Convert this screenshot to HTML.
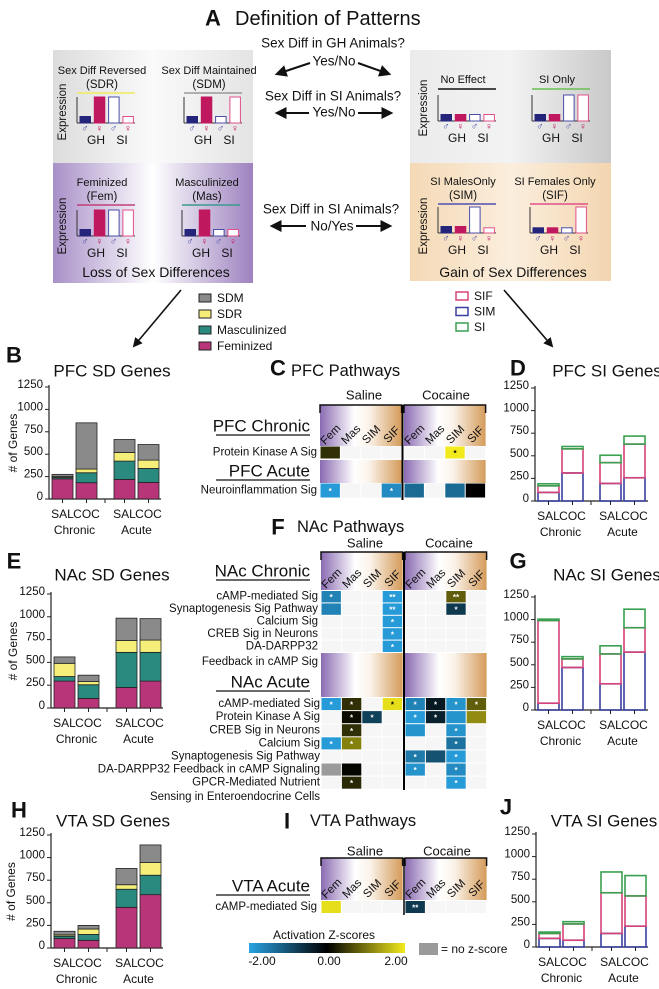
<!DOCTYPE html>
<html><head><meta charset="utf-8">
<style>
html,body{margin:0;padding:0;background:#fff;}
svg{display:block;font-family:"Liberation Sans",Arial,sans-serif;}
</style></head>
<body>
<svg id="fig" width="659" height="989" viewBox="0 0 659 989" xmlns="http://www.w3.org/2000/svg">
<defs>
<linearGradient id="gGrayL" x1="0" x2="1"><stop offset="0" stop-color="#dcdcdc"/><stop offset="0.5" stop-color="#fafafa"/><stop offset="1" stop-color="#e4e4e4"/></linearGradient>
<linearGradient id="gPurp" x1="0" x2="1"><stop offset="0" stop-color="#a890c8"/><stop offset="0.5" stop-color="#ffffff"/><stop offset="1" stop-color="#9d82bf"/></linearGradient>
<linearGradient id="gGrayR" x1="0" x2="1"><stop offset="0" stop-color="#ebebeb"/><stop offset="0.5" stop-color="#f3f3f3"/><stop offset="1" stop-color="#c9c9c9"/></linearGradient>
<linearGradient id="gPeach" x1="0" x2="1"><stop offset="0" stop-color="#f4d9b5"/><stop offset="0.5" stop-color="#fbeedd"/><stop offset="1" stop-color="#f3d6b0"/></linearGradient>
<linearGradient id="gHdr" x1="0" x2="1"><stop offset="0" stop-color="#8a6bb2"/><stop offset="0.42" stop-color="#ffffff"/><stop offset="0.6" stop-color="#fbf3ea"/><stop offset="1" stop-color="#d49b5a"/></linearGradient>
<linearGradient id="gZ" x1="0" x2="1"><stop offset="0" stop-color="#29a3e3"/><stop offset="0.5" stop-color="#000000"/><stop offset="1" stop-color="#f2ea1c"/></linearGradient>
<marker id="ah" viewBox="0 0 10 10" refX="8" refY="5" markerWidth="6" markerHeight="6" orient="auto"><path d="M0,0 L10,5 L0,10 z" fill="#111"/></marker>
</defs>
<g id="panelA"></g>
<g id="charts"></g>
<g id="heat"></g>
</svg>
<script>
// ---------- DATA ----------
const miniSDR=[0.25,1,1,0.25];
const miniSDM=[0.25,1,0.25,1];
const miniFem=[0.25,1,1,1];
const miniMas=[0.25,1,0.25,0.25];
const miniNoEff=[0.25,0.25,0.25,0.25];
const miniSIOnly=[0.25,0.25,1,1];
const miniSIM=[0.25,0.25,1,0.2];
const miniSIF=[0.2,0.2,0.2,1];

const sdCategories=['SAL','COC','SAL','COC'];
const groupLabels=['Chronic','Acute'];
const yTicks=[0,250,500,750,1000,1250];
const pfcFem=[225,182,219,185], pfcMasc=[15,111,204,156], pfcSDR=[10,41,96,93], pfcSDM=[25,516,145,174];
const nacFem=[295,105,225,295], nacMasc=[50,150,385,315], nacSDR=[145,35,130,135], nacSDM=[70,70,245,235];
const vtaFem=[105,85,450,590], vtaMasc=[25,65,200,215], vtaSDR=[15,60,50,140], vtaSDM=[40,40,180,195];
const pfcSIM=[95,310,194,257], pfcSIF=[73,267,230,372], pfcSI=[22,26,82,89];
const nacSIM=[75,470,290,640], nacSIF=[915,95,330,270], nacSI=[15,25,90,205];
const vtaSIM=[95,75,150,230], vtaSIF=[55,180,450,335], vtaSI=[15,25,230,225];

const heatCols=['Fem','Mas','SIM','SIF'];
const pfcChronicRows=['Protein Kinase A Sig'];
const pfcChronicZ=[[0.4,null,null,null,null,null,2,null]];
const pfcChronicStars=[['','','','','','','*','']];
const pfcAcuteRows=['Neuroinflammation Sig'];
const pfcAcuteZ=[[-1.9,null,null,-1.7,-1.3,null,-1.3,0]];
const pfcAcuteStars=[['*','','','*','','','','']];
const nacChronicRows=['cAMP-mediated Sig','Synaptogenesis Sig Pathway','Calcium Sig','CREB Sig in Neurons','DA-DARPP32'];
const nacChronicZ=[[-1.6,null,null,-1.9,null,null,0.8,null],[-1.6,null,null,-1.9,null,null,-0.7,null],[null,null,null,-1.9,null,null,null,null],[null,null,null,-1.9,null,null,null,null],[null,null,null,-1.9,null,null,null,null]];
const nacChronicStars=[['*','','','**','','','**',''],['','','','**','','','*',''],['','','','*','','','',''],['','','','*','','','',''],['','','','*','','','','']];
const nacAcuteRows=['cAMP-mediated Sig','Protein Kinase A Sig','CREB Sig in Neurons','Calcium Sig','Synaptogenesis Sig Pathway','DA-DARPP32 Feedback in cAMP Signaling','GPCR-Mediated Nutrient'];
const nacAcuteZ=[[-1.9,0.4,null,1.9,-1.6,-0.3,-1.8,0.8],[null,0.1,-0.8,null,-1.9,-0.4,-1.8,1.2],[null,0.4,null,null,-1.8,null,-1.8,null],[-1.9,1.1,null,null,null,null,-1.4,null],[null,null,null,null,-1.5,-1.0,-1.9,null],['NA',0.05,null,null,-1.8,null,-1.7,null],[null,0.35,null,null,null,null,-1.9,null]];
const nacAcuteStars=[['*','*','','*','*','*','*','*'],['','*','*','','*','*','',''],['','*','','','','','*',''],['*','*','','','','','*',''],['','','','','*','','*',''],['','','','','*','','*',''],['','*','','','','','*','']];
const vtaRows=['cAMP-mediated Sig'];
const vtaZ=[[1.9,null,null,null,-0.7,null,null,null]];
const vtaStars=[['','','','','**','','','']];
const zTickLabels=['-2.00','0.00','2.00'];

// ---------- HELPERS ----------
const NS='http://www.w3.org/2000/svg';
function mk(parent,tag,attrs,text){const e=document.createElementNS(NS,tag);for(const k in attrs)e.setAttribute(k,attrs[k]);if(text!==undefined)e.textContent=text;parent.appendChild(e);return e;}
function txt(parent,x,y,s,size,anchor,name,extra){const a=Object.assign({x:x,y:y,'font-size':size,'text-anchor':anchor||'middle','dominant-baseline':'central',fill:'#111'},extra||{});const t=mk(parent,'text',a,s);return t;}
const A=document.getElementById('panelA'), C=document.getElementById('charts'), H=document.getElementById('heat');

// ---------- PANEL A ----------
txt(A,213,18,'A',22,'middle','panel-a-letter',{'font-weight':'bold'});
txt(A,235,19,'Definition of Patterns',20,'start','panel-a-title');
function box(x,y,w,h,f,n){const r=mk(A,'rect',{x:x,y:y,width:w,height:h,fill:f});}
box(53,50,200,113,'url(#gGrayL)','sd-box');
box(53,163,200,120,'url(#gPurp)','loss-box');
box(410,50,201,113,'url(#gGrayR)','si-box');
box(410,163,201,118,'url(#gPeach)','gain-box');
txt(A,333,43,'Sex Diff in GH Animals?',13.5,'middle','question-gh');
txt(A,334,61,'Yes/No',13.5,'middle','yes-no-1');
txt(A,333,96,'Sex Diff in SI Animals?',13.5,'middle','question-si-1');
txt(A,334,112,'Yes/No',13.5,'middle','yes-no-2');
txt(A,331,209,'Sex Diff in SI Animals?',13.5,'middle','question-si-2');
txt(A,332,226,'No/Yes',13.5,'middle','no-yes');
function arrow(x1,y1,x2,y2,n,w){const l=mk(A,'line',{x1:x1,y1:y1,x2:x2,y2:y2,stroke:'#111','stroke-width':w||2,'marker-end':'url(#ah)'});}
arrow(310,63,277,74,'arrow-yes-left');arrow(358,63,389,74,'arrow-no-right');
arrow(309,113,277,113,'arrow-yes-left-2');arrow(358,113,391,113,'arrow-no-right-2');
arrow(306,226,272,226,'arrow-no-left');arrow(356,226,390,226,'arrow-yes-right');
arrow(181,290,134,346,'arrow-to-sd',1.6);arrow(504,290,552,346,'arrow-to-si',1.6);

const NAVY='#24247a',MAG='#c0185e',BLU='#4b4fa8',PNK='#e0508a';
function mini(ax,base,top,vals,lineColor,t1,t2,titleY,name,lineY){
  const g=mk(A,'g',{});
  const H0=base-top;
  txt(g,ax+25,titleY,t1,11,'middle',name+'-title');
  if(t2)txt(g,ax+25,titleY+14,t2,11.5,'middle',name+'-subtitle');
  mk(g,'line',{x1:ax,x2:ax+58,y1:lineY,y2:lineY,stroke:lineColor,'stroke-width':1.5});
  mk(g,'line',{x1:ax,x2:ax,y1:top,y2:base,stroke:'#333','stroke-width':1});
  mk(g,'line',{x1:ax,x2:ax+58,y1:base,y2:base,stroke:'#333','stroke-width':1});
  const fills=[NAVY,MAG,'#fff','#fff'],strokes=[NAVY,MAG,BLU,PNK];
  vals.forEach((v,i)=>{const h=v*H0;const r=mk(g,'rect',{x:ax+3+i*14.3,y:base-h,width:10.5,height:h,fill:fills[i],stroke:strokes[i],'stroke-width':1});});
  const sy=['♂','♀','♂','♀'];
  sy.forEach((s,i)=>txt(g,ax+8+i*14.3,base+6,s,10,'middle','sex-symbol',{fill:i%2?MAG:BLU}));
  txt(g,ax+19,base+17,'GH',12,'middle','gh-label');
  txt(g,ax+45,base+17,'SI',12,'middle','si-label');
}
mini(77,123,97,miniSDR,'#f2ea60','Sex Diff Reversed','(SDR)',71,'mini-sdr',93);
mini(184,123,97,miniSDM,'#999','Sex Diff Maintained','(SDM)',71,'mini-sdm',93);
mini(77,236,210,miniFem,'#c0407a','Feminized','(Fem)',183,'mini-fem',205);
mini(182,236,210,miniMas,'#3a9a90','Masculinized','(Mas)',183,'mini-mas',205);
mini(438,121,95,miniNoEff,'#111','No Effect',null,80,'mini-noeffect',89);
mini(532,121,95,miniSIOnly,'#6ac050','SI Only',null,80,'mini-sionly',89);
mini(438,233,207,miniSIM,'#5050b0','SI MalesOnly','(SIM)',182,'mini-sim',204);
mini(530,233,207,miniSIF,'#e0508a','SI Females Only','(SIF)',182,'mini-sif',204);
[[63,112],[63,226],[424,108],[424,226]].forEach(p=>txt(A,p[0],p[1],'Expression',11.5,'middle','expression-label',{transform:'rotate(-90 '+p[0]+' '+p[1]+')'}));
txt(A,156,272,'Loss of Sex Differences',14,'middle','loss-label');
txt(A,513,272,'Gain of Sex Differences',14,'middle','gain-label');
const sdLeg=[['SDM','#8a8a8a'],['SDR','#f5ef7a'],['Masculinized','#2a8a80'],['Feminized','#b8357a']];
sdLeg.forEach((l,i)=>{const y=298+i*16;const r=mk(A,'rect',{x:199,y:y-4,width:12,height:8,fill:l[1],stroke:'#222','stroke-width':1});txt(A,217,y,l[0],12,'start','legend-'+l[0].toLowerCase());});
const siLeg=[['SIF','#d6437a'],['SIM','#3a40a0'],['SI','#3aa050']];
siLeg.forEach((l,i)=>{const y=296+i*15.5;const r=mk(A,'rect',{x:456,y:y-4,width:12,height:8,fill:'#fff',stroke:l[1],'stroke-width':1.5});txt(A,474,y,l[0],12,'start','legend-'+l[0].toLowerCase());});

// ---------- BAR CHARTS ----------
function barChart(o){
  const g=mk(C,'g',{});
  txt(g,o.letterX,o.letterY,o.letter,22,'middle','panel-letter',{'font-weight':'bold'});
  txt(g,o.titleX,o.titleY,o.title,17,'middle','chart-title');
  const yS=v=>o.y0-(v/1250)*(o.y0-o.y1250);
  mk(g,'line',{x1:o.ax,x2:o.ax,y1:o.y1250-2,y2:o.y0,stroke:'#222','stroke-width':1.2});
  mk(g,'line',{x1:o.ax,x2:o.axEnd,y1:o.y0,y2:o.y0,stroke:'#222','stroke-width':1.2});
  yTicks.forEach(t=>{const y=yS(t);mk(g,'line',{x1:o.ax-4,x2:o.ax,y1:y,y2:y,stroke:'#222'});txt(g,o.ax-6,y-2,String(t),11.5,'end','y-tick-label');});
  if(o.ylabel)txt(g,o.ylabelX,(o.y0+o.y1250)/2,'# of Genes',12,'middle','y-axis-title',{transform:'rotate(-90 '+o.ylabelX+' '+(o.y0+o.y1250)/2+')'});
  const bx=[o.ax+3,o.ax+27,o.ax+65,o.ax+89];
  const bw=21;
  sdCategories.forEach((c,i)=>{
    let acc=0;
    o.series.forEach((s,k)=>{const v=s.data[i];const y1=yS(acc),y2=yS(acc+v);acc+=v;
      const r=mk(g,'rect',{x:bx[i],y:y2,width:bw,height:Math.max(0,y1-y2),fill:o.outline?'#fff':s.color,'fill-opacity':o.outline?0:1,stroke:o.outline?s.color:'#222','stroke-width':o.outline?1.6:0.8});
      });
    const cx=bx[i]+bw/2;
    mk(g,'line',{x1:cx,x2:cx,y1:o.y0,y2:o.y0+4,stroke:'#222'});
    txt(g,cx,o.y0+15,c,12,'middle','x-category-label');
  });
  mk(g,'line',{x1:o.ax+56,x2:o.ax+56,y1:o.y0,y2:o.y0+4,stroke:'#222'});
  txt(g,(bx[0]+bx[1]+bw)/2,o.y0+31,groupLabels[0],12,'middle','x-group-label');
  txt(g,(bx[2]+bx[3]+bw)/2,o.y0+31,groupLabels[1],12,'middle','x-group-label');
}
function sdSeries(f,m,r,s){return [{key:'feminized',color:'#b8357a',data:f},{key:'masculinized',color:'#2a8a80',data:m},{key:'sdr',color:'#f5ef7a',data:r},{key:'sdm',color:'#8a8a8a',data:s}];}
function siSeries(m,f,s){return [{key:'sim',color:'#3a40a0',data:m},{key:'sif',color:'#d6437a',data:f},{key:'si',color:'#3aa050',data:s}];}
barChart({name:'pfc-sd-chart',letter:'B',letterX:14,letterY:355,title:'PFC SD Genes',titleX:112,titleY:371,ax:49,axEnd:161,y0:499,y1250:387,ylabel:true,ylabelX:13,series:sdSeries(pfcFem,pfcMasc,pfcSDR,pfcSDM)});
barChart({name:'nac-sd-chart',letter:'E',letterX:14,letterY:561,title:'NAc SD Genes',titleX:112,titleY:575,ax:51,axEnd:163,y0:708,y1250:594,ylabel:true,ylabelX:13,series:sdSeries(nacFem,nacMasc,nacSDR,nacSDM)});
barChart({name:'vta-sd-chart',letter:'H',letterX:19,letterY:810,title:'VTA SD Genes',titleX:113,titleY:821,ax:51,axEnd:163,y0:948,y1250:835,ylabel:true,ylabelX:11,series:sdSeries(vtaFem,vtaMasc,vtaSDR,vtaSDM)});
barChart({name:'pfc-si-chart',letter:'D',letterX:518,letterY:368,title:'PFC SI Genes',titleX:607,titleY:371,ax:535,axEnd:648,y0:501,y1250:388,outline:true,series:siSeries(pfcSIM,pfcSIF,pfcSI)});
barChart({name:'nac-si-chart',letter:'G',letterX:518,letterY:561,title:'NAc SI Genes',titleX:607,titleY:575,ax:535,axEnd:648,y0:710,y1250:597,outline:true,series:siSeries(nacSIM,nacSIF,nacSI)});
barChart({name:'vta-si-chart',letter:'J',letterX:506,letterY:807,title:'VTA SI Genes',titleX:604,titleY:821,ax:536,axEnd:648,y0:947,y1250:834,outline:true,series:siSeries(vtaSIM,vtaSIF,vtaSI)});

// ---------- HEATMAPS ----------
function zColor(z){if(z==='NA')return '#9a9a9a';const t=Math.max(-2,Math.min(2,z))/2;
  const c=t<0?[41,163,227]:[242,234,28];const a=Math.abs(t);
  return 'rgb('+c.map(v=>Math.round(v*a)).join(',')+')';}
const CW=20.4;
function colX(j,x0s,x0c){return j<4?x0s+j*CW:x0c+(j-4)*CW;}
function header(g,x0s,x0c,yTop,yBot,withLabels){
  [x0s,x0c].forEach(x0=>{const r=mk(g,'rect',{x:x0,y:yTop,width:CW*4,height:yBot-yTop,fill:'url(#gHdr)'});
    if(withLabels){mk(g,'path',{d:'M'+x0+','+(yTop+8)+'V'+yTop+'H'+(x0+CW*4)+'V'+(yTop+8),fill:'none',stroke:'#111','stroke-width':1.5});
      heatCols.forEach((c,j)=>{const cx=x0+j*CW+11,cy=yBot-11;txt(g,cx,cy,c,11.5,'middle','column-label',{transform:'rotate(-45 '+cx+' '+cy+')'});});}
  });
}
function section(g,label,x,y){txt(g,x,y,label,17,'end','section-label');mk(g,'line',{x1:x-94,x2:x,y1:y+9,y2:y+9,stroke:'#111','stroke-width':1.2});}
function rowsDraw(g,rows,Z,S,x0s,x0c,yStart,rh,labelX){
  rows.forEach((lab,i)=>{const y=yStart+i*rh;
    txt(g,labelX,y+rh/2,lab,11.5,'end','row-label');
    Z[i].forEach((z,j)=>{const x=colX(j,x0s,x0c);
      const r=mk(g,'rect',{x:x+0.5,y:y+0.5,width:CW-1,height:rh-1,fill:z===null?'#f6f6f6':zColor(z)});
      
      const s=S[i][j];if(s)txt(g,x+CW/2,y+rh/2+1,s,8,'middle','significance-star',{fill:(z!=='NA'&&z>1.5)?'#000':'#fff','font-weight':'bold'});});
  });
}
(function(){const g=mk(H,'g',{});
  const xs=320,xc=404;
  txt(g,278,368,'C',22,'middle','panel-letter',{'font-weight':'bold'});
  txt(g,291,371,'PFC Pathways',16.5,'start','heatmap-title');
  txt(g,364,395,'Saline',13,'middle','saline-label');txt(g,446,395,'Cocaine',13,'middle','cocaine-label');
  header(g,xs,xc,405,446,true);
  section(g,'PFC Chronic',310,426);
  rowsDraw(g,pfcChronicRows,pfcChronicZ,pfcChronicStars,xs,xc,446,13,317);
  header(g,xs,xc,460,483,false);
  section(g,'PFC Acute',310,471);
  rowsDraw(g,pfcAcuteRows,pfcAcuteZ,pfcAcuteStars,xs,xc,483,15,317);
  mk(g,'line',{x1:402.5,x2:402.5,y1:405,y2:500,stroke:'#000','stroke-width':2});
})();
(function(){const g=mk(H,'g',{});
  const xs=321,xc=405;
  txt(g,278,527,'F',22,'middle','panel-letter',{'font-weight':'bold'});
  txt(g,297,527,'NAc Pathways',16.5,'start','heatmap-title');
  txt(g,365,543,'Saline',13,'middle','saline-label');txt(g,449,543,'Cocaine',13,'middle','cocaine-label');
  header(g,xs,xc,552,590,true);
  section(g,'NAc Chronic',310,571);
  rowsDraw(g,nacChronicRows,nacChronicZ,nacChronicStars,xs,xc,590.5,12.4,318);
  txt(g,318,662,'Feedback in cAMP Sig',11.5,'end','row-label-continued');
  header(g,xs,xc,653,697,false);
  section(g,'NAc Acute',310,682);
  rowsDraw(g,nacAcuteRows,nacAcuteZ,nacAcuteStars,xs,xc,697.5,13.1,320);
  txt(g,320,797,'Sensing in Enteroendocrine Cells',11.5,'end','row-label-continued');
  mk(g,'line',{x1:404,x2:404,y1:552,y2:790,stroke:'#000','stroke-width':2});
})();
(function(){const g=mk(H,'g',{});
  const xs=321,xc=405;
  txt(g,287,821,'I',22,'middle','panel-letter',{'font-weight':'bold'});
  txt(g,310,821,'VTA Pathways',16.5,'start','heatmap-title');
  txt(g,365,851,'Saline',13,'middle','saline-label');txt(g,447,851,'Cocaine',13,'middle','cocaine-label');
  header(g,xs,xc,858,900,true);
  section(g,'VTA Acute',310,886);
  rowsDraw(g,vtaRows,vtaZ,vtaStars,xs,xc,900.5,13,317);
  mk(g,'line',{x1:404,x2:404,y1:858,y2:915,stroke:'#000','stroke-width':1.5});
  txt(g,324,935,'Activation Z-scores',12,'middle','colorbar-title');
  const cb=mk(g,'rect',{x:249,y:943,width:156,height:10,fill:'url(#gZ)'});
  const zx=[262,329,396];
  zTickLabels.forEach((t,i)=>txt(g,zx[i],961,t,12,'middle','colorbar-tick'));
  const gs=mk(g,'rect',{x:419,y:943,width:19,height:12,fill:'#9a9a9a'});
  txt(g,441,949,'= no z-score',12,'start','no-zscore-label');
})();
</script>
</body></html>
